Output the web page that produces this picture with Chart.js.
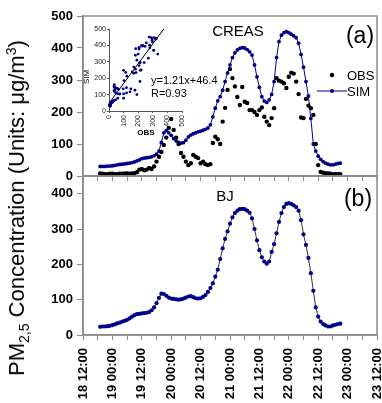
<!DOCTYPE html>
<html>
<head>
<meta charset="utf-8">
<script src="https://cdn.jsdelivr.net/npm/chart.js@4.4.0/dist/chart.umd.min.js"></script>
<style>
html, body { margin: 0; padding: 0; background: #fff; }
#wrap { position: relative; width: 382px; height: 403px; overflow: hidden; font-family: Arial, "Liberation Sans", sans-serif; }
canvas { position: absolute; }
#chartA { left: 0; top: 0; }
#chartB { left: 0; top: 170px; }
#inset { left: 80px; top: 20px; }
.lbl { position: absolute; white-space: nowrap; color: #000; line-height: 1; }
.c { transform: translate(-50%, -50%); }
.l { transform: translate(0, -50%); }
#ytitle { left: 17px; top: 208px; font-size: 22px; transform: translate(-50%, -50%) rotate(-90deg); }
#ytitle sub, #ytitle sup { font-size: 14px; line-height: 0; }
</style>
</head>
<body>
<div id="wrap">
    <canvas id="chartA" width="382" height="200"></canvas>
    <canvas id="chartB" width="382" height="233"></canvas>
    <canvas id="inset" width="112" height="128"></canvas>

    <div class="lbl c" style="left:238px;top:30px;font-size:15px;">CREAS</div>
    <div class="lbl c" style="left:360px;top:35px;font-size:23px;">(a)</div>
    <div class="lbl l" style="left:151px;top:80px;font-size:11px;">y=1.21x+46.4</div>
    <div class="lbl l" style="left:151px;top:93px;font-size:11px;">R=0.93</div>
    <div class="lbl l" style="left:347px;top:75px;font-size:13px;">OBS</div>
    <div class="lbl l" style="left:347px;top:91px;font-size:13px;">SIM</div>
    <div class="lbl c" style="left:146px;top:133px;font-size:8px;font-weight:bold;">OBS</div>
    <div class="lbl c" style="left:87px;top:77px;font-size:8px;transform:translate(-50%,-50%) rotate(-90deg);">SIM</div>
    <div class="lbl c" style="left:225px;top:195px;font-size:15px;">BJ</div>
    <div class="lbl c" style="left:358px;top:198px;font-size:23px;">(b)</div>
    <div class="lbl" id="ytitle">PM<sub>2,5</sub> Concentration (Units: μg/m<sup>3</sup>)</div>
</div>
<script>
// hours counted from 18 12:00, one value per hour starting at FIRST_HOUR
const START_DAY = 18;
const START_HOUR = 12;
const FIRST_HOUR = 7;

// (a) CREAS, observed
const OBS_A = [
    8, 7, 6, 6, 7, 7, 6, 6, 7, 7, 8, 8,
    7, 8, 9, 12, 20, 22, 18, 20, 25, 22, 30, 45,
    60, 75, 97, 120, 150, 178, 144, 120, 100, 72, 60, 45,
    34, 40, 66, 60, 56, 40, 45, 37, 34, 37, 103, 123,
    115, 100, 170, 213, 269, 334, 306, 280, 247, 222, 278, 232,
    228, 206, 206, 200, 191, 206, 214, 185, 170, 159, 181, 212,
    306, 298, 295, 290, 275, 310, 323, 320, 295, 256, 183, 181,
    241, 220, 212, 191, 100, 34, 13, 10, 9, 8, 7, 6,
    6, 6, 6
];

// (a) CREAS, simulated
const SIM_A = [
    30, 30, 30, 31, 31, 32, 33, 35, 36, 37, 38, 39,
    40, 42, 44, 47, 50, 54, 56, 57, 58, 60, 63, 68,
    78, 105, 135, 142, 135, 127, 117, 110, 105, 103, 104, 112,
    122, 128, 132, 135, 138, 140, 143, 146, 150, 160, 185, 212,
    235, 248, 268, 295, 322, 347, 370, 385, 394, 399, 401, 400,
    395, 388, 378, 347, 310, 277, 248, 234, 230, 238, 255, 295,
    370, 420, 440, 448, 451, 448, 443, 438, 432, 415, 380, 340,
    295, 250, 180, 100, 78, 62, 52, 45, 40, 37, 35, 35,
    37, 39, 40
];

// (b) BJ, simulated
const SIM_B = [
    23, 24, 24, 25, 26, 28, 30, 33, 35, 38, 40, 43,
    47, 52, 56, 59, 60, 61, 62, 63, 65, 70, 78, 90,
    105, 117, 116, 111, 106, 103, 102, 101, 100, 101, 103, 106,
    109, 110, 107, 104, 103, 104, 108, 113, 122, 133, 146, 165,
    185, 215, 245, 272, 293, 315, 333, 345, 352, 356, 357, 356,
    352, 346, 330, 300, 268, 240, 220, 208, 202, 208, 235, 257,
    288, 320, 345, 362, 371, 373, 371, 367, 362, 352, 325, 285,
    255, 218, 175, 125, 78, 52, 38, 31, 27, 24, 24, 27,
    29, 31, 32
];

// regression shown in the inset
const FIT_SLOPE = 1.21;
const FIT_INTERCEPT = 46.4;

const hours = SIM_A.map((_, i) => FIRST_HOUR + i);

const NAVY = '#00008b';
const AXIS = '#8a8a8a';
const FONT = 'Arial, "Liberation Sans", sans-serif';

Chart.defaults.font.family = FONT;
Chart.defaults.color = '#000';
Chart.defaults.animation = false;

function toPoints(values) {
    return values.map((v, i) => ({ x: hours[i], y: v }));
}

function timeLabel(value) {
    if (value % 12 !== 0) return '';
    const total = START_HOUR + value;
    const day = START_DAY + Math.floor(total / 24);
    const hour = total % 24;
    return `${day} ${String(hour).padStart(2, '0')}:00`;
}

const frame = {
    id: 'frame',
    afterDraw(chart) {
        const { ctx, chartArea: a } = chart;
        ctx.save();
        ctx.strokeStyle = AXIS;
        ctx.lineWidth = 1.5;
        ctx.strokeRect(a.left, a.top, a.right - a.left, a.bottom - a.top);
        ctx.restore();
    },
};

const legendA = {
    id: 'legendA',
    afterDraw(chart) {
        const ctx = chart.ctx;
        ctx.save();
        ctx.fillStyle = '#000';
        ctx.beginPath();
        ctx.arc(332, 75, 2.2, 0, Math.PI * 2);
        ctx.fill();
        ctx.strokeStyle = NAVY;
        ctx.lineWidth = 1;
        ctx.beginPath();
        ctx.moveTo(317, 91);
        ctx.lineTo(347, 91);
        ctx.stroke();
        ctx.fillStyle = NAVY;
        ctx.beginPath();
        ctx.arc(332, 91, 2, 0, Math.PI * 2);
        ctx.fill();
        ctx.restore();
    },
};

function yScale(max) {
    return {
        min: 0,
        max,
        afterFit(s) { s.width = 83; s.paddingTop = 0; s.paddingBottom = 0; },
        border: { color: AXIS, width: 1.5 },
        grid: { drawOnChartArea: false, tickLength: 6, color: AXIS },
        ticks: {
            stepSize: 50,
            padding: 4,
            color: '#000',
            font: { size: 13, weight: 'bold' },
            callback: (v) => (v % 100 === 0 ? v : ''),
        },
    };
}

function xScale(height, showLabels) {
    return {
        type: 'linear',
        min: 0,
        max: 120,
        afterFit(s) { s.height = height; s.paddingLeft = 0; s.paddingRight = 0; },
        border: { color: AXIS, width: 1.5 },
        grid: { drawOnChartArea: false, tickLength: 5, color: AXIS },
        ticks: {
            stepSize: 6,
            autoSkip: false,
            minRotation: 90,
            maxRotation: 90,
            padding: 8,
            color: '#000',
            font: { size: 13, weight: 'bold' },
            callback: (v) => (showLabels ? timeLabel(v) : ''),
        },
    };
}

const commonPlugins = { legend: { display: false }, tooltip: { enabled: false } };

new Chart(document.getElementById('chartA'), {
    type: 'scatter',
    data: {
        datasets: [
            {
                label: 'OBS',
                data: toPoints(OBS_A),
                pointRadius: 2.2,
                pointBorderWidth: 0,
                backgroundColor: '#000',
                borderColor: '#000',
                clip: false,
            },
            {
                label: 'SIM',
                data: toPoints(SIM_A),
                showLine: true,
                borderColor: NAVY,
                borderWidth: 1,
                pointRadius: 1.9,
                pointBorderWidth: 0,
                backgroundColor: NAVY,
                clip: false,
            },
        ],
    },
    options: {
        responsive: false,
        layout: { padding: { top: 16, right: 5, left: 0, bottom: 0 } },
        scales: { x: xScale(24, false), y: yScale(500) },
        plugins: commonPlugins,
    },
    plugins: [frame, legendA],
});

new Chart(document.getElementById('chartB'), {
    type: 'scatter',
    data: {
        datasets: [
            {
                label: 'SIM',
                data: toPoints(SIM_B),
                showLine: true,
                borderColor: '#333',
                borderWidth: 1,
                pointRadius: 2.1,
                pointBorderWidth: 0,
                backgroundColor: NAVY,
                clip: false,
            },
        ],
    },
    options: {
        responsive: false,
        layout: { padding: { top: 6, right: 5, left: 0, bottom: 0 } },
        scales: { x: xScale(68, true), y: yScale(450) },
        plugins: commonPlugins,
    },
    plugins: [frame],
});

// inset: simulated vs observed for the same hours
const pairs = OBS_A.map((o, i) => ({ x: o, y: SIM_A[i] }));
const fitEnd = (500 - FIT_INTERCEPT) / FIT_SLOPE;
const fitLine = [
    { x: 0, y: FIT_INTERCEPT },
    { x: fitEnd, y: FIT_SLOPE * fitEnd + FIT_INTERCEPT },
];

function insetScale(isX) {
    return {
        min: 0,
        max: 500,
        afterFit(s) {
            if (isX) { s.height = 37; s.paddingLeft = 0; s.paddingRight = 0; }
            else { s.width = 29; s.paddingTop = 0; s.paddingBottom = 0; }
        },
        border: { color: '#555', width: 1 },
        grid: { drawOnChartArea: false, tickLength: 2, color: '#555' },
        ticks: {
            stepSize: 100,
            autoSkip: false,
            padding: isX ? 2 : 1,
            minRotation: isX ? 90 : 0,
            maxRotation: isX ? 90 : 0,
            color: '#222',
            font: { size: 7 },
        },
    };
}

new Chart(document.getElementById('inset'), {
    type: 'scatter',
    data: {
        datasets: [
            {
                label: 'fit',
                data: fitLine,
                showLine: true,
                borderColor: '#000',
                borderWidth: 1,
                pointRadius: 0,
            },
            {
                label: 'pairs',
                data: pairs,
                pointRadius: 1.4,
                pointBorderWidth: 0,
                backgroundColor: NAVY,
                clip: false,
            },
        ],
    },
    options: {
        responsive: false,
        layout: { padding: { top: 9, right: 10, left: 0, bottom: 0 } },
        scales: { x: insetScale(true), y: insetScale(false) },
        plugins: commonPlugins,
    },
});
</script>
</body>
</html>
